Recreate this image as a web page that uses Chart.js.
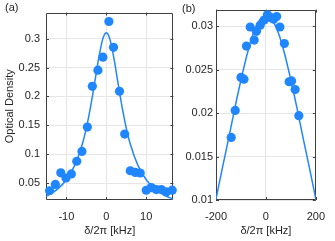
<!DOCTYPE html>
<html>
<head>
<meta charset="utf-8">
<script src="https://cdn.jsdelivr.net/npm/chart.js@4"></script>
<style>
  body { margin: 0; background: #fff; }
  #wrap { position: relative; width: 335px; height: 241px; overflow: hidden; font-family: 'Liberation Sans', Arial, sans-serif; }
  canvas { position: absolute; top: 0; }
  .lbl { position: absolute; font-size: 11px; color: #262626; }
</style>
</head>
<body>
<div id="wrap">
  <canvas id="chartA" width="178" height="241" style="left:0"></canvas>
  <canvas id="chartB" width="157" height="241" style="left:178px"></canvas>
  <div class="lbl" style="left:5px;top:1px">(a)</div>
  <div class="lbl" style="left:182px;top:2px">(b)</div>
</div>
<script>
// panel (a) measured points
const aX = [-14.2, -12.75, -11.4, -10.1, -8.75, -7.4, -6.1, -4.75, -3.5, -2.1, -0.85, 0.65, 1.8, 3.3, 4.6, 6.0, 7.25, 8.5, 10.0, 11.25, 12.5, 13.75, 15.0, 16.5]
const aY = [0.037, 0.048, 0.068, 0.059, 0.066, 0.088, 0.105, 0.147, 0.2175, 0.2455, 0.268, 0.3296, 0.285, 0.209, 0.135, 0.0716, 0.0687, 0.0677, 0.0379, 0.0424, 0.039, 0.039, 0.035, 0.038]
// panel (a) fit curve
const aFitX = [-15.1, -14, -12, -10, -8, -6, -5, -4, -3, -2, -1, -0.5, 0, 0.5, 1, 2, 3, 4, 5, 6, 8, 10, 12, 14, 15, 16, 16.8]
const aFitY = [0.0274, 0.0314, 0.0412, 0.0561, 0.0796, 0.1179, 0.1454, 0.1798, 0.2203, 0.2625, 0.2966, 0.3065, 0.310, 0.3065, 0.2966, 0.2625, 0.2203, 0.1798, 0.1454, 0.1179, 0.0796, 0.0561, 0.0412, 0.0314, 0.0277, 0.0246, 0.0225]
const aXTicks = [-10, 0, 10]
const aYTicks = [0.05, 0.1, 0.15, 0.2, 0.25, 0.3]

// panel (b)
const bX = [-139, -123, -100, -88, -78, -63, -47, -38, -23, -7, 6, 18, 31, 43, 56, 74, 93, 103, 117, 132]
const bY = [0.0172, 0.0203, 0.0241, 0.0239, 0.0277, 0.0299, 0.0284, 0.0294, 0.0301, 0.0307, 0.0313, 0.0310, 0.0308, 0.0311, 0.0299, 0.0280, 0.0236, 0.0237, 0.0227, 0.0197]
const bFitX = [-200, -175, -150, -125, -100, -75, -50, -25, 0, 25, 50, 75, 100, 125, 150, 175, 200]
const bFitY = [0.0101, 0.0136, 0.0170, 0.0205, 0.0238, 0.0268, 0.0292, 0.0307, 0.0312, 0.0307, 0.0292, 0.0268, 0.0238, 0.0205, 0.0170, 0.0136, 0.0101]
const bXTicks = [-200, 0, 200]
const bYTicks = [0.01, 0.015, 0.02, 0.025, 0.03]

const blue = '#1f86ff'
const dark = '#404040'
const font = { family: "'Liberation Sans', Arial, sans-serif", size: 11 }

// box round the plot area plus inward tick marks, like matlab
const boxPlugin = {
    id: 'box',
    beforeDatasetsDraw(chart) {
        const { ctx, chartArea: a, scales } = chart
        ctx.save()
        ctx.strokeStyle = dark
        ctx.lineWidth = 1
        ctx.beginPath()
        ctx.rect(Math.round(a.left) + 0.5, Math.round(a.top) + 0.5, Math.round(a.right - a.left) - 1, Math.round(a.bottom - a.top) - 1)
        ctx.stroke()
        ctx.beginPath()
        scales.x.ticks.forEach(t => {
            const p = Math.round(scales.x.getPixelForValue(t.value)) + 0.5
            ctx.moveTo(p, a.bottom); ctx.lineTo(p, a.bottom - 3)
            ctx.moveTo(p, a.top); ctx.lineTo(p, a.top + 3)
        })
        scales.y.ticks.forEach(t => {
            const p = Math.round(scales.y.getPixelForValue(t.value)) + 0.5
            ctx.moveTo(a.left, p); ctx.lineTo(a.left + 3, p)
            ctx.moveTo(a.right, p); ctx.lineTo(a.right - 3, p)
        })
        ctx.stroke()
        ctx.restore()
    }
}

function makeChart(id, px, py, fx, fy, xr, yr, xt, yt, opt) {
    return new Chart(document.getElementById(id), {
        type: 'scatter',
        data: {
            datasets: [{
                data: px.map((x, i) => ({ x: x, y: py[i] })),
                backgroundColor: blue,
                borderColor: blue,
                pointRadius: 4.6,
                borderWidth: 0,
                clip: false
            }, {
                data: fx.map((x, i) => ({ x: x, y: fy[i] })),
                showLine: true,
                borderColor: blue,
                borderWidth: 1.5,
                pointRadius: 0,
                cubicInterpolationMode: 'monotone'
            }]
        },
        options: {
            responsive: false,
            animation: false,
            devicePixelRatio: 1,
            layout: { padding: { top: 7, right: opt.right, left: 0, bottom: 0 } },
            plugins: { legend: { display: false }, tooltip: { enabled: false } },
            scales: {
                x: {
                    min: xr[0], max: xr[1],
                    afterBuildTicks: s => { s.ticks = xt.map(v => ({ value: v })) },
                    afterFit: s => { s.height = 41 },
                    grid: { color: '#e6e6e6', drawTicks: false },
                    border: { display: false },
                    ticks: { font: font, color: '#262626', padding: 10, maxRotation: 0, callback: v => String(v) },
                    title: { display: true, text: 'δ/2π [kHz]', font: font, color: '#262626', padding: { top: 2, bottom: 3 } }
                },
                y: {
                    min: yr[0], max: yr[1],
                    afterBuildTicks: s => { s.ticks = yt.map(v => ({ value: v })) },
                    afterFit: s => { s.width = opt.yw },
                    grid: { color: '#e6e6e6', drawTicks: false },
                    border: { display: false },
                    ticks: { font: font, color: '#262626', padding: opt.ypad, callback: v => String(v) },
                    title: { display: opt.ytitle != null, text: opt.ytitle || '', font: font, color: '#262626', padding: { top: 3, bottom: 0 } }
                }
            }
        },
        plugins: [boxPlugin]
    })
}

makeChart('chartA', aX, aY, aFitX, aFitY, [-15.1, 16.8], [0.021, 0.345], aXTicks, aYTicks,
    { right: 4, yw: 46, ypad: 6, ytitle: 'Optical Density' })
makeChart('chartB', bX, bY, bFitX, bFitY, [-200, 200], [0.01, 0.0319], bXTicks, bYTicks,
    { right: 11, yw: 38, ypad: 3, ytitle: null })
</script>
</body>
</html>
